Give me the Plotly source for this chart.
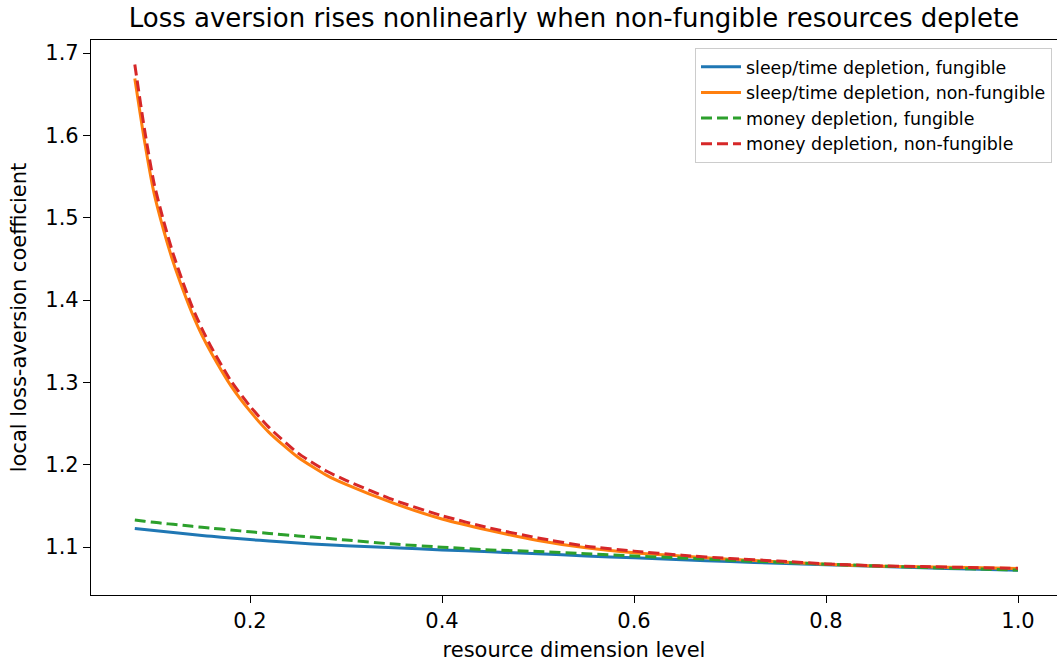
import plotly.graph_objects as go

# Resource dimension level (x) and local loss-aversion coefficient per scenario
level = [0.08, 0.09, 0.10, 0.11, 0.12, 0.13, 0.14, 0.15, 0.16, 0.18, 0.20, 0.22,
         0.25, 0.28, 0.30, 0.35, 0.40, 0.45, 0.50, 0.55, 0.60, 0.65, 0.70, 0.75,
         0.80, 0.85, 0.90, 0.95, 1.00]

sleep_fungible = [1.1225, 1.1212, 1.1200, 1.1188, 1.1176, 1.1164, 1.1152, 1.1140,
                  1.1130, 1.1110, 1.1090, 1.1073, 1.1048, 1.1028, 1.1015, 1.0990,
                  1.0965, 1.0942, 1.0917, 1.0892, 1.0868, 1.0845, 1.0823, 1.0803,
                  1.0784, 1.0765, 1.0748, 1.0732, 1.0717]

sleep_nonfungible = [1.669, 1.594, 1.530, 1.485, 1.446, 1.413, 1.383, 1.357,
                     1.335, 1.296, 1.265, 1.239, 1.209, 1.187, 1.176, 1.153,
                     1.134, 1.120, 1.108, 1.099, 1.093, 1.089, 1.085, 1.082,
                     1.079, 1.077, 1.076, 1.075, 1.074]

money_fungible = [1.1328, 1.1313, 1.1300, 1.1287, 1.1275, 1.1263, 1.1251, 1.1240,
                  1.1229, 1.1207, 1.1185, 1.1165, 1.1135, 1.1105, 1.1085, 1.1035,
                  1.0998, 1.0965, 1.0945, 1.0918, 1.0892, 1.0866, 1.0840, 1.0815,
                  1.0792, 1.0771, 1.0752, 1.0735, 1.0720]

money_nonfungible = [1.686, 1.608, 1.542, 1.496, 1.456, 1.422, 1.391, 1.365,
                     1.342, 1.302, 1.271, 1.245, 1.214, 1.192, 1.181, 1.157,
                     1.138, 1.123, 1.111, 1.101, 1.095, 1.090, 1.086, 1.083,
                     1.0795, 1.0773, 1.0762, 1.0751, 1.0741]

series = [
    ("sleep/time depletion, fungible", sleep_fungible, "#1f77b4", "solid"),
    ("sleep/time depletion, non-fungible", sleep_nonfungible, "#ff7f0e", "solid"),
    ("money depletion, fungible", money_fungible, "#2ca02c", "11px,5px"),
    ("money depletion, non-fungible", money_nonfungible, "#d62728", "11px,5px"),
]

FONT = "DejaVu Sans"

fig = go.Figure()
for name, vals, color, dash in series:
    fig.add_trace(go.Scatter(
        x=level, y=vals, mode="lines", name=name,
        line=dict(color=color, width=3, dash=dash, shape="spline", smoothing=0.6),
    ))

fig.update_layout(
    width=1057, height=663,
    margin=dict(l=91, r=0, t=40, b=68),
    paper_bgcolor="white", plot_bgcolor="white",
    font=dict(family=FONT, color="black", size=21),
    title=dict(
        text="Loss aversion rises nonlinearly when non-fungible resources deplete",
        x=0.5, xref="paper", xanchor="center",
        y=1 - 18 / 663, yref="container", yanchor="middle",
        font=dict(family=FONT, size=26, color="black"),
    ),
    legend=dict(
        x=(1052 - 91) / 966, xanchor="right",
        y=1 - 8 / 555, yanchor="top",
        bgcolor="rgba(255,255,255,0.8)",
        bordercolor="#cccccc", borderwidth=1,
        font=dict(family=FONT, size=17.4, color="black"),
        tracegroupgap=0, itemwidth=40,
    ),
    showlegend=True,
)

fig.update_xaxes(
    range=[0.03438, 1.04063],
    tickvals=[0.2, 0.4, 0.6, 0.8, 1.0],
    ticktext=["0.2", "0.4", "0.6", "0.8", "1.0"],
    ticks="outside", ticklen=7, tickwidth=1.2, tickcolor="black",
    showline=True, linecolor="black", linewidth=1.2, mirror=True,
    showgrid=False, zeroline=False, automargin=False,
    tickfont=dict(family=FONT, size=21),
    title=dict(text="resource dimension level", font=dict(family=FONT, size=21), standoff=10),
)

fig.update_yaxes(
    range=[1.0417, 1.7158],
    tickvals=[1.1, 1.2, 1.3, 1.4, 1.5, 1.6, 1.7],
    ticktext=["1.1", "1.2", "1.3", "1.4", "1.5", "1.6", "1.7"],
    ticks="outside", ticklen=7, tickwidth=1.2, tickcolor="black",
    showline=True, linecolor="black", linewidth=1.2, mirror=False,
    showgrid=False, zeroline=False, automargin=False,
    tickfont=dict(family=FONT, size=21),
    title=dict(text="local loss-aversion coefficient", font=dict(family=FONT, size=21), standoff=12),
)

fig.write_html("out.html")
